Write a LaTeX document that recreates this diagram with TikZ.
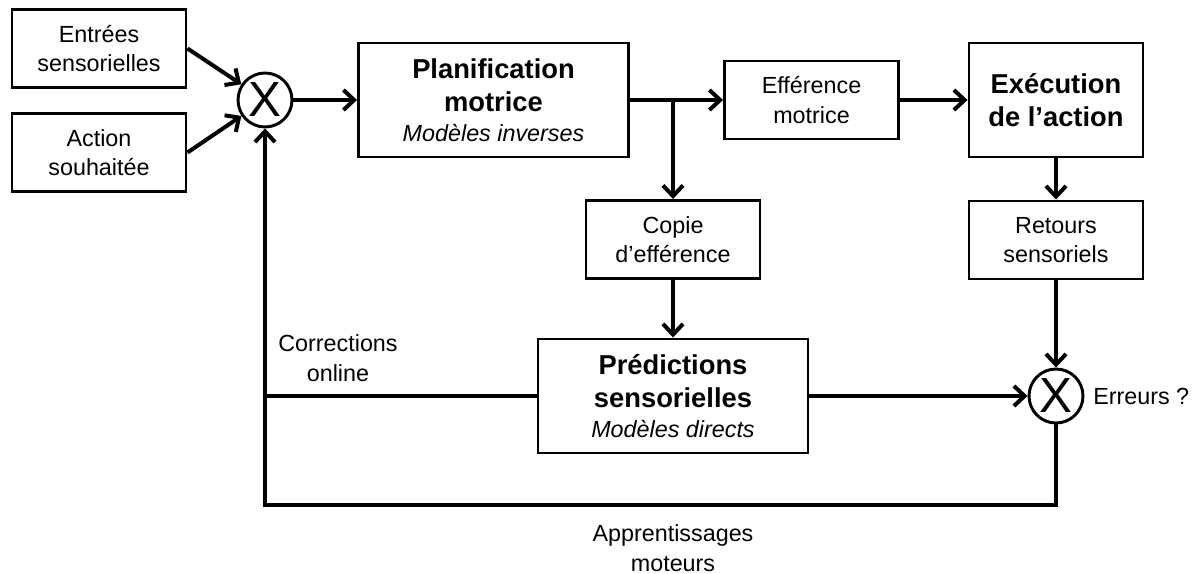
\documentclass[tikz,border=0pt]{standalone}
\usepackage{fontspec}
\setmainfont{Liberation Sans}
\usetikzlibrary{arrows.meta}
\begin{document}
\begin{tikzpicture}[x=0.75pt,y=-0.75pt,
  txt/.style={font=\fontsize{17.5pt}{22pt}\selectfont, align=center, inner sep=0pt},
  smallbox/.style={draw, line width=2.2pt, minimum width=130.5pt, minimum height=58.5pt, inner sep=0pt, align=center, font=\fontsize{17.5pt}{22pt}\selectfont},
  bigbox/.style={draw, line width=2.2pt, minimum width=202.5pt, minimum height=85.5pt, inner sep=0pt, align=center, font=\fontsize{20.5pt}{25pt}\selectfont\bfseries},
  tallbox/.style={bigbox, minimum width=130.5pt},
  sub/.style={},
  mixer/.style={draw, circle, line width=2.2pt, minimum size=40.5pt, inner sep=0pt, font=\fontsize{37pt}{37pt}\selectfont},
  arr/.style={line width=3pt, -{Straight Barb[length=8pt,width=15pt]}},
  wire/.style={line width=3pt}
]
\useasboundingbox (0,0) rectangle (1198,574);

% nodes
\node[smallbox] (ent) at (99,48.5) {Entrées\\sensorielles};
\node[smallbox] (act) at (99,152.5) {Action\\souhaitée};
\node[mixer] (c1) at (265,100) {X};
\node[bigbox] (plan) at (493.5,100) {Planification\\motrice\\[-3pt]{\fontsize{17.5pt}{22pt}\selectfont\mdseries\itshape Modèles inverses}};
\node[smallbox] (eff) at (811.5,100) {Efférence\\motrice};
\node[tallbox] (exec) at (1056,100) {Exécution\\de l’action};
\node[smallbox] (copie) at (673,239.5) {Copie\\d’efférence};
\node[smallbox] (ret) at (1056,240) {Retours\\sensoriels};
\node[bigbox] (pred) at (673,396) {Prédictions\\sensorielles\\[-3pt]{\fontsize{17.5pt}{22pt}\selectfont\mdseries\itshape Modèles directs}};
\node[mixer] (c2) at (1056,396) {X};

\node[txt] (corr) at (338,358) {Corrections\\online};
\node[txt] (appr) at (673,548) {Apprentissages\\moteurs};
\node[txt, anchor=west] (err) at (1093,396) {Erreurs ?};

% helper coordinates
\coordinate (branch) at (copie.north |- plan.east);
\coordinate (bl) at (265,505);
\coordinate (br) at (1056,505);
\coordinate (cl) at (265,396);

% connectors
\draw[arr] (ent.east) -- (c1);
\draw[arr] (act.east) -- (c1);
\draw[arr] (c1.east) -- (plan.west);
\draw[arr] (plan.east) -- (eff.west);
\draw[arr] (branch) -- (copie.north);
\draw[arr] (eff.east) -- (exec.west);
\draw[arr] (exec.south) -- (ret.north);
\draw[arr] (copie.south) -- (pred.north);
\draw[arr] (ret.south) -- (c2.north);
\draw[arr] (pred.east) -- (c2.west);
\draw[wire] (pred.west) -- (cl);
\draw[arr, line join=miter] (c2.south) -- (br) -- (bl) -- (c1.south);
\end{tikzpicture}
\end{document}
